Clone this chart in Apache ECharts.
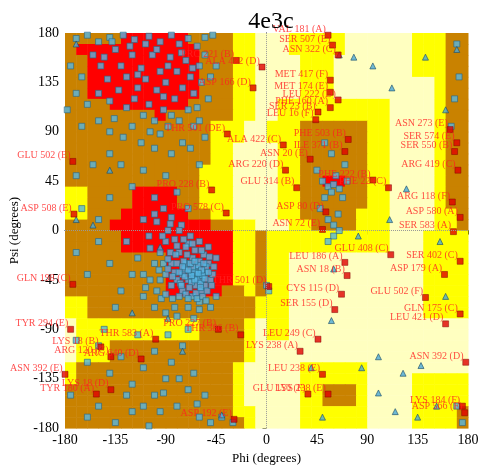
<!DOCTYPE html>
<html>
<head>
<meta charset="UTF-8">
<script src="https://cdn.jsdelivr.net/npm/echarts@6/dist/echarts.min.js"></script>
<style>body{margin:0;background:#fff}#c{width:500px;height:470px}</style>
</head>
<body>
<div id="c"></div>
<script>
// region map, 10 degree cells, rows from psi 180 down to -180, columns phi -180 .. 180
// R core, B allowed, Y generous, L outside
const regionRows = [
  "BBBBBRRRRRRBBBBYYLLLYYYYYLLLLLLYYYBB",
  "BRRRRRRRRRRRBBBYYLLLYYYYYLLLLLLYYYBB",
  "BBRRRRRRRRRRBBBYYLLLLYYYLLLLLLLYYYBB",
  "BBRRRRRRRRRRBBBYYLLLLYYYLLLLLLLYYYBB",
  "BBRRRRRRRRRRBBBYYLLLLYYYLLLLLLLLLYBB",
  "BBRRRRRRRRRRBBBYYLLLLYYYLLLLLLLLLYBB",
  "BBBBRRRRRRRBBBBYYLLYYYYYYYYYYLLLLYBB",
  "BBBBBBBBRBBBBBBYYLLYYYYYYYYYYLLLLYBB",
  "BBBBBBBBBBBBBYYYLLYYYBBBBBBYYLLLLYBB",
  "BBBBBBBBBBBBBYYYLLYYYBBBBBBYYLLLLYBB",
  "BBBBBBBBBBBBBYYLLLLYYBBBBBBYYLLLLYBB",
  "BBBBBBBBBBBBBYYLLLLYYBBBBBBYYLLLLYBB",
  "BBBBBBBBBBBBYYYLLLLYYBBBBBBYYLLLLYBB",
  "BBBBBBBBBBBBYYYLLLLYYBBRRBBYYLLLLYBB",
  "YYBBBBRRRRBBYYYLLLLYYBBBBBBYYLLLLYBB",
  "YYBBBBRRRRBBYYYLLLLYYBBBBBBYYLLLLYBB",
  "YYBBBRRRRRRBBYYLLLLYYBBBBBYYYLLLLYYB",
  "BBBBRRRRRRRRRBBYYLLLYYBBBBYYYLLLLYYB",
  "BBBBBRRRRRRRRRRYYBYYYYYYYYYYYLLLYYYY",
  "BBBBBRRRRRRRRRRYYBYYYYYYYYYYYLLLYYYY",
  "BBBBBBBBBRRRRRRYYBYYLLLLLLLLLLLLYYYY",
  "BBBBBBBBBRRRRRRYYBYYLLLLLLLLLLLLYYYY",
  "BBBBBBBBBRRRRRRYYBYYLLLLLLLLLLLLYYYY",
  "BBBBBBBBBRRRRRBBYBYYLLLLLLLLLLLLYYYY",
  "YYBBBBBBBBBBBBBBBYYYLLLLLLLLLLLLYYYY",
  "YYBBBBBBBBBBBBBBBYYYLLLLLLLLLLLLYYYY",
  "LYYYYYYYYYYYBBBBYLYYLLLLLLLLLLLLLLLL",
  "LYYYYYYYYYYYBBBBYLYYLLLLLLLLLLLLLLLL",
  "LYYYBBBBBBBBBBBBYLLLLLLLLLLLLLLLLLLL",
  "LYYYBBBBBBBBBBBBYLLLLLLLLLLLLLLLLLLL",
  "YBBBBBBBBBBBBBBYLLLLLYYYYYYLLLLLLLLL",
  "YBBBBBBBBBBBBBBYLLLLLYYYYYYLLLLYYYYY",
  "BBBBBBBBBBBBBBBYLLLLLYYBBBYLLLLYYYYY",
  "BBBBBBBBBBBBBBBYLLLLLYYBBBYLLLLYYYYY",
  "BBBBBBBBBBBBBBBYYLLLLYYYYYYLLLLYYYYB",
  "BBBBBBBBBBBBBBBBYLLLLYYYYYYLLLLYYYYB"
];
const regionColors = { R: '#ff0000', B: '#c98200', Y: '#ffff00', L: '#ffffc0' };

const ticks = [-180, -135, -90, -45, 0, 45, 90, 135, 180];

// general residues (blue squares)
const generalPts = [
  [-170,175],[-160,178],[-150,172],[-140,176],[-128,178],[-118,174],[-105,177],[-95,172],[-85,178],[-78,170],[-70,175],[-62,168],[-55,176],[-48,178],
  [-175,150],[-165,140],[-155,160],[-148,150],[-142,138],[-135,165],[-130,150],[-125,140],[-120,160],[-115,130],[-112,148],[-108,138],[-102,160],[-98,128],
  [-95,145],[-90,135],[-86,158],[-82,120],[-80,145],[-75,130],[-72,155],[-68,140],[-65,125],[-60,150],[-58,135],[-55,160],[-52,120],[-150,125],[-140,118],
  [-132,128],[-125,112],[-118,120],[-110,105],[-105,115],[-100,100],[-92,110],[-88,95],[-85,105],[-78,100],[-70,110],[-65,95],[-60,100],[-55,85],[-50,140],
  [-45,150],[-160,115],[-170,125],[-178,110],[-165,95],[-150,100],[-140,90],[-128,85],[-120,95],[-112,80],[-100,75],[-95,88],[-85,70],[-75,80],[-68,75],
  [-60,60],[-130,60],[-120,40],[-110,55],[-100,30],[-90,50],[-80,35],[-70,20],[-140,70],[-155,60],[-170,50],[-165,20],[-150,10],[-140,30],
  [-138,172],[-122,168],[-98,165],[-88,150],[-76,162],[-66,148],[-108,170],[-145,158],[-115,142],[-92,122],[-62,112],[-104,90],[-136,102],
  [-60,-40],[-65,-42],[-62,-35],[-58,-45],[-68,-38],[-70,-45],[-55,-38],[-63,-50],[-72,-30],[-66,-25],[-60,-28],[-75,-40],[-78,-20],[-80,-45],
  [-85,-30],[-90,-10],[-95,-20],[-88,0],[-82,-8],[-76,5],[-70,-12],[-64,-18],[-56,-22],[-52,-30],[-50,-45],[-58,-55],[-66,-60],[-75,-55],[-85,-50],
  [-95,-45],[-100,-30],[-105,-5],[-110,10],[-100,15],[-92,20],[-85,12],[-78,-60],[-70,-70],[-60,-65],[-55,-50],[-48,-40],[-45,-25],[-52,-15],[-60,-10],
  [-68,-5],[-74,-28],[-82,-38],[-90,-40],[-98,-55],[-115,-25],[-120,-40],[-125,-10],[-130,-55],[-110,-60],[-100,-70],[-90,-75],[-80,-78],[-65,-80],
  [-50,-70],[-45,-60],[-140,-30],[-150,-10],[-160,-40],[-170,-20],[-135,-70],[-62,-44],[-57,-41],[-67,-47],[-73,-35],[-61,-32],[-64,-38],[-59,-48],
  [-69,-52],[-54,-33],[-77,-48],[-71,-22],[-66,-33],[-63,-57],[-80,-30],[-86,-20],[-92,-30],[-72,-15],[-56,-30],[-84,-62],[-94,-62],[-104,-45],
  [-58,-36],[-61,-39],[-64,-45],[-67,-41],[-70,-36],[-73,-42],[-59,-52],[-55,-44],[-52,-38],[-68,-30],[-64,-28],[-75,-33],[-78,-38],[-81,-22],
  [-84,-42],[-88,-35],[-76,-50],[-72,-58],[-62,-62],[-57,-60],[-53,-55],[-49,-50],[-47,-33],[-51,-24],[-58,-18],[-66,-12],[-74,-8],[-80,-14],
  [-88,-26],[-93,-5],[-98,8],[-104,-16],[-110,-40],[-90,-58],[-82,-70],[-70,-62],[-60,-72],[-54,-64],[-78,0],[-86,6],[-96,-36],[-108,-52],
  [-170,-100],[-160,-120],[-150,-105],[-140,-130],[-130,-115],[-120,-140],[-110,-125],[-100,-150],[-90,-135],[-80,-160],[-70,-145],[-60,-170],
  [-150,-160],[-135,-175],[-120,-165],[-105,-178],[-95,-165],[-85,-120],[-75,-105],[-65,-130],[-55,-150],[-50,-175],[-160,-170],[-175,-150],
  [-145,-90],[-115,-95],[-100,-110],[-88,-95],[-70,-90],[-40,-170],[-30,-175],[-125,-150],[-92,-148],[-78,-135],[-62,-158],[-110,-160],
  [50,45],[55,40],[60,42],[62,50],[58,35],[52,30],[65,38],[68,30],[72,45],[48,20],[55,10],[60,5],[64,15],[45,55],[58,70],[52,80],[70,60],[60,-5],[55,-10],[65,0],
  [170,170],[168,120],[165,95],[172,140],[175,-175],[170,-160],[0,-50],[2,-55]
];

// glycine (triangles)
const glyPts = [
  [-170,170],[-140,55],[-170,10],[-155,5],[-120,-75],[-95,-15],[-88,-80],[-75,-110],[-40,-168],[60,-35],[82,-5],[110,10],[125,38],[155,-10],
  [160,-60],[138,-123],[122,-130],[100,-148],[58,-82],[40,-125],[50,-170],[115,-165],[135,-170],[152,-160],[112,130],[142,158],[170,165],
  [160,110],[95,150],[65,160],[78,158],[85,-125],[100,-115]
];

// outliers
const outlierPts = [
  [55,178],[59,169],[64,160],[-4,149],[-27,155],[-12,130],[57,137],[57,126],[64,119],[57,112],[46,108],[44,101],[164,92],[170,80],[168,72],
  [15,78],[73,83],[70,72],[39,65],[17,55],[171,55],[95,46],[109,39],[27,39],[166,26],[173,12],[167,-1],[53,17],[50,1],[111,-22],[173,-28],
  [159,-40],[173,-76],[160,-85],[142,-61],[70,-29],[72,-41],[67,-58],[61,-72],[46,-99],[30,-110],[50,-131],[55,-149],[37,-149],[178,-120],
  [175,-160],[177,-166],[2,-51],[-23,-95],[-99,-99],[-43,-90],[-175,-90],[-148,-106],[-139,-115],[-112,-117],[-180,-131],[-139,-145],
  [-152,-149],[-172,15],[-173,63],[-173,-49],[-49,37],[-36,16],[-35,88],[-29,-172]
];
const outlierNames = [
  'VAL 181 (A)','SER 507 (E)','ASN 322 (C)','ALA 422 (D)','PRO 221 (B)','ASP 166 (D)','MET 417 (F)','MET 174 (E)','LEU 222 (D)','PHE 160 (A)',
  'SER 23 (B)','LEU 16 (F)','ASN 273 (E)','SER 574 (E)','SER 550 (B)','ALA 422 (C)','PHE 503 (B)','ILE 371 (B)','ASN 20 (E)','ARG 220 (D)',
  'ARG 419 (C)','PHE 222 (B)','PHE 22 (C)','GLU 314 (B)','ARG 118 (F)','ASP 580 (A)','SER 583 (A)','ASP 80 (D)','ASN 72 (E)','GLU 408 (C)',
  'SER 402 (C)','ASP 179 (A)','GLN 175 (C)','LEU 421 (D)','GLU 502 (F)','LEU 186 (A)','ASN 18 (B)','CYS 115 (D)','SER 155 (D)','LEU 249 (C)',
  'LYS 238 (A)','LEU 238 (E)','LYS 238 (E)','GLU 150 (F)','ASN 392 (D)','LYS 184 (F)','ASP 566 (F)','THR 501 (D)','THR 386 (B)','THR 583 (A)',
  'PRO 227 (B)','TYR 294 (E)','LYS 18 (B)','ARG 120 (C)','ARG 640 (D)','ASN 392 (E)','LYS 18 (D)','TYR 180 (A)','ASP 508 (E)','GLU 502 (E)',
  'GLN 198 (C)','PRO 228 (B)','PRO 578 (C)','THR 501 (DE)','ASP 192 (E)'
];

const cells = [];
regionRows.forEach((row, r) => {
  for (let i = 0; i < row.length; i++) cells.push([-180 + 10 * i, 170 - 10 * r, row[i]]);
});

const font = 'Liberation Serif';
const chart = echarts.init(document.getElementById('c'));
chart.setOption({
  animation: false,
  title: { text: '4e3c', left: 266, top: 5, textAlign: 'center',
    textStyle: { fontFamily: font, fontSize: 24, fontWeight: 'normal', color: '#000' } },
  grid: { left: 64, right: 32, top: 33, bottom: 41 },
  xAxis: {
    type: 'value', min: -180, max: 180, interval: 45,
    name: 'Phi (degrees)', nameLocation: 'middle', nameGap: 22,
    nameTextStyle: { fontFamily: font, fontSize: 13, color: '#000' },
    axisLine: { lineStyle: { color: '#000' } },
    axisTick: { inside: false, length: 4, lineStyle: { color: '#000' } },
    axisLabel: { fontFamily: font, fontSize: 14, color: '#000', margin: 5,
      formatter: v => ticks.includes(v) ? String(v) : '' },
    splitLine: { show: false }
  },
  yAxis: {
    type: 'value', min: -180, max: 180, interval: 45,
    name: 'Psi (degrees)', nameLocation: 'middle', nameGap: 44,
    nameTextStyle: { fontFamily: font, fontSize: 13, color: '#000' },
    axisLine: { lineStyle: { color: '#000' } },
    axisTick: { length: 4, lineStyle: { color: '#000' } },
    axisLabel: { fontFamily: font, fontSize: 14, color: '#000', margin: 6 },
    splitLine: { show: false }
  },
  series: [
    {
      type: 'custom', silent: true, data: cells,
      renderItem: (params, api) => {
        const p0 = api.coord([api.value(0), api.value(1) + 10]);
        const p1 = api.coord([api.value(0) + 10, api.value(1)]);
        return { type: 'rect',
          shape: { x: p0[0], y: p0[1], width: p1[0] - p0[0] + 0.5, height: p1[1] - p0[1] + 0.5 },
          style: { fill: regionColors[cells[params.dataIndex][2]] } };
      },
      markLine: { silent: true, symbol: 'none', label: { show: false },
        lineStyle: { color: '#999', type: 'dotted', width: 1 },
        data: [{ xAxis: 0 }, { yAxis: 0 }] }
    },
    {
      type: 'scatter', data: generalPts, symbol: 'rect', symbolSize: 6,
      itemStyle: { color: '#55b6e4', borderColor: '#2d6680', borderWidth: 0.8 }
    },
    {
      type: 'scatter', data: glyPts, symbol: 'triangle', symbolSize: 6,
      itemStyle: { color: '#4aa8d8', borderColor: '#1d4d66', borderWidth: 0.8 }
    },
    {
      type: 'scatter', symbol: 'rect', symbolSize: 6,
      data: outlierPts.map((p, i) => ({ value: p, name: outlierNames[i] })),
      itemStyle: { color: '#e00000', borderColor: '#800000', borderWidth: 0.6 },
      label: { show: true, formatter: '{b}', position: 'left', offset: [2, -6], distance: 1,
        fontFamily: font, fontSize: 10, color: '#ff2020' }
    }
  ]
});
</script>
</body>
</html>
